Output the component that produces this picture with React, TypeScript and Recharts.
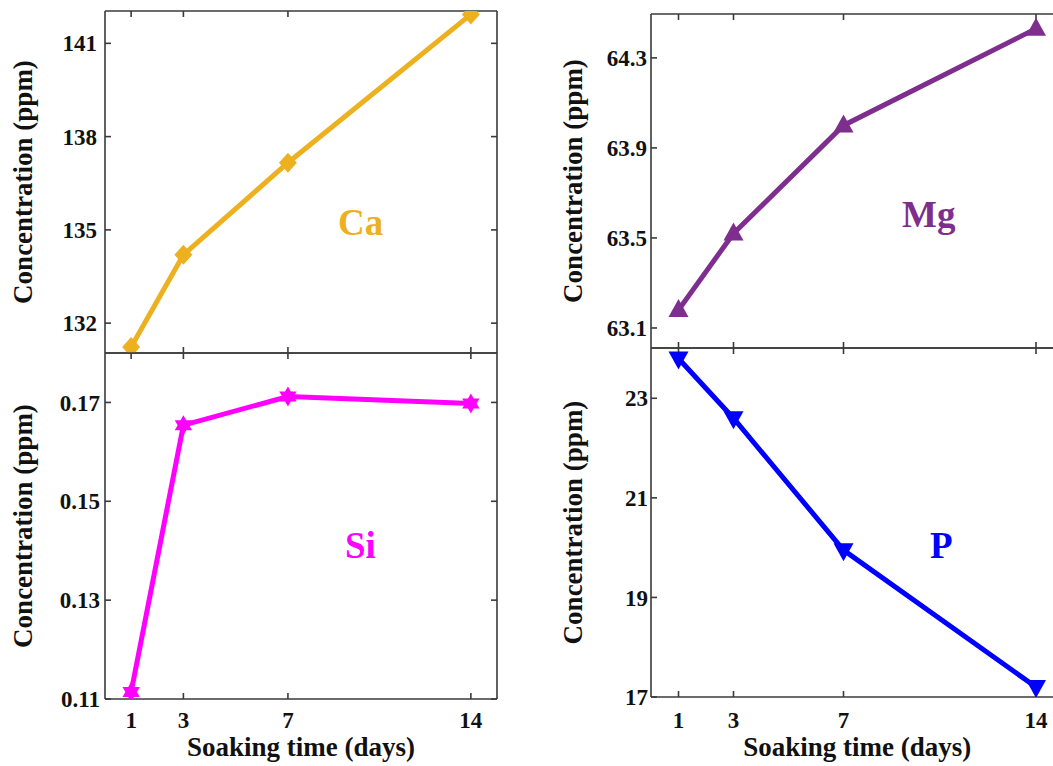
import React from "react";
import { LineChart, Line, XAxis, YAxis } from "recharts";

// soaking time (days)
const days = [1, 3, 7, 14];

// concentrations (ppm)
const caValues = [131.23, 134.2, 137.16, 141.93];
const mgValues = [63.18, 63.52, 64.0, 64.43];
const siValues = [0.1114, 0.1654, 0.1712, 0.1698];
const pValues = [23.8, 22.6, 19.95, 17.2];

const caTicks = [132, 135, 138, 141];
const mgTicks = [63.1, 63.5, 63.9, 64.3];
const siTicks = [0.11, 0.13, 0.15, 0.17];
const pTicks = [17, 19, 21, 23];

const SERIF = '"Liberation Serif", "Times New Roman", serif';
const FRAME = { stroke: "#3a3a3a", strokeWidth: 1.6 };
const tickStyle = { fontFamily: SERIF, fontWeight: "bold", fontSize: 23, fill: "#111" };
const titleStyle = { fontFamily: SERIF, fontWeight: "bold", fontSize: 27, fill: "#111" };
const noLabel = () => <g />;

const toRows = (vals: number[]) => days.map((d, i) => ({ day: d, v: vals[i] }));

type Shape = (cx: number, cy: number, color: string) => React.ReactNode;

const diamond: Shape = (cx, cy, c) => (
  <path d={`M${cx},${cy - 10}L${cx + 9},${cy}L${cx},${cy + 10}L${cx - 9},${cy}Z`} fill={c} />
);
const triUp: Shape = (cx, cy, c) => (
  <path d={`M${cx},${cy - 11}L${cx + 10},${cy + 7}L${cx - 10},${cy + 7}Z`} fill={c} />
);
const triDown: Shape = (cx, cy, c) => (
  <path d={`M${cx},${cy + 11}L${cx + 10},${cy - 7}L${cx - 10},${cy - 7}Z`} fill={c} />
);
const hexagram: Shape = (cx, cy, c) => {
  const r = 10;
  const h = r * 0.866;
  return (
    <path
      d={`M${cx},${cy - r}L${cx + h},${cy + r / 2}L${cx - h},${cy + r / 2}Z M${cx},${cy + r}L${cx - h},${cy - r / 2}L${cx + h},${cy - r / 2}Z`}
      fill={c}
    />
  );
};

interface PanelProps {
  values: number[];
  left: number;
  top: number;
  width: number;
  height: number;
  margin: { top: number; right: number; bottom: number; left: number };
  yWidth: number;
  yDomain: [number, number];
  yTicks: number[];
  yTickMargin: number;
  yLabelOffset: number;
  color: string;
  shape: Shape;
  showX: boolean;
  xHeight: number;
  xTickMargin: number;
}

const Panel: React.FC<PanelProps> = (p) => {
  const data = toRows(p.values);
  return (
    <div style={{ position: "absolute", left: p.left, top: p.top }}>
      <LineChart width={p.width} height={p.height} data={data} margin={p.margin}>
        <XAxis
          xAxisId="b"
          dataKey="day"
          type="number"
          orientation="bottom"
          domain={[0, 15]}
          ticks={days}
          allowDataOverflow
          height={p.xHeight}
          tickSize={-6}
          tickMargin={p.xTickMargin}
          tick={p.showX ? tickStyle : noLabel}
          axisLine={FRAME}
          tickLine={FRAME}
          label={
            p.showX
              ? { value: "Soaking time (days)", position: "insideBottom", offset: 10, style: titleStyle }
              : undefined
          }
        />
        <XAxis
          xAxisId="t"
          dataKey="day"
          type="number"
          orientation="top"
          domain={[0, 15]}
          ticks={days}
          allowDataOverflow
          height={1}
          tickSize={-6}
          tick={noLabel}
          axisLine={FRAME}
          tickLine={FRAME}
        />
        <YAxis
          yAxisId="l"
          type="number"
          domain={p.yDomain}
          ticks={p.yTicks}
          allowDataOverflow
          width={p.yWidth}
          tickSize={-6}
          tickMargin={p.yTickMargin}
          tick={tickStyle}
          axisLine={FRAME}
          tickLine={FRAME}
          label={{
            value: "Concentration (ppm)",
            angle: -90,
            position: "insideLeft",
            offset: p.yLabelOffset,
            style: { ...titleStyle, textAnchor: "middle" },
          }}
        />
        <YAxis
          yAxisId="r"
          type="number"
          orientation="right"
          domain={p.yDomain}
          ticks={p.yTicks}
          allowDataOverflow
          width={1}
          tickSize={-6}
          tick={noLabel}
          axisLine={FRAME}
          tickLine={FRAME}
        />
        <Line
          xAxisId="b"
          yAxisId="l"
          dataKey="v"
          stroke={p.color}
          strokeWidth={5}
          isAnimationActive={false}
          dot={(d: any) => <g key={`dot-${d.index}`}>{p.shape(d.cx, d.cy, p.color)}</g>}
          activeDot={false}
        />
      </LineChart>
    </div>
  );
};

const labelText = { fontFamily: SERIF, fontWeight: "bold", fontSize: 37 } as const;

export default function App() {
  return (
    <div
      style={{
        position: "absolute",
        left: 0,
        top: 0,
        width: 1053,
        height: 766,
        overflow: "hidden",
        background: "#fff",
      }}
    >
      <Panel
        values={caValues}
        left={0}
        top={0}
        width={520}
        height={360}
        margin={{ top: 10, right: 22, bottom: 6, left: 0 }}
        yWidth={105}
        yDomain={[131.04, 142.04]}
        yTicks={caTicks}
        yTickMargin={14}
        yLabelOffset={22}
        color="#EDB120"
        shape={diamond}
        showX={false}
        xHeight={1}
        xTickMargin={0}
      />
      <Panel
        values={siValues}
        left={0}
        top={340}
        width={520}
        height={426}
        margin={{ top: 12, right: 22, bottom: 0, left: 0 }}
        yWidth={105}
        yDomain={[0.11, 0.18]}
        yTicks={siTicks}
        yTickMargin={11}
        yLabelOffset={22}
        color="#FF00FF"
        shape={hexagram}
        showX={true}
        xHeight={67}
        xTickMargin={19}
      />
      <Panel
        values={mgValues}
        left={540}
        top={0}
        width={540}
        height={360}
        margin={{ top: 13, right: 15.5, bottom: 11, left: 0 }}
        yWidth={111}
        yDomain={[63.011, 64.495]}
        yTicks={mgTicks}
        yTickMargin={10}
        yLabelOffset={32}
        color="#7E2F8E"
        shape={triUp}
        showX={false}
        xHeight={1}
        xTickMargin={0}
      />
      <Panel
        values={pValues}
        left={540}
        top={340}
        width={540}
        height={426}
        margin={{ top: 7, right: 15.5, bottom: 0, left: 0 }}
        yWidth={111}
        yDomain={[17, 24.01]}
        yTicks={pTicks}
        yTickMargin={9}
        yLabelOffset={32}
        color="#0000FF"
        shape={triDown}
        showX={true}
        xHeight={69}
        xTickMargin={21}
      />
      <svg
        width={1053}
        height={766}
        style={{ position: "absolute", left: 0, top: 0, pointerEvents: "none" }}
      >
        <text x={338} y={235} fill="#EDB120" {...labelText}>Ca</text>
        <text x={902} y={227} fill="#7E2F8E" {...labelText}>Mg</text>
        <text x={345} y={558} fill="#FF00FF" {...labelText}>Si</text>
        <text x={930} y={558} fill="#0000FF" {...labelText}>P</text>
      </svg>
    </div>
  );
}
